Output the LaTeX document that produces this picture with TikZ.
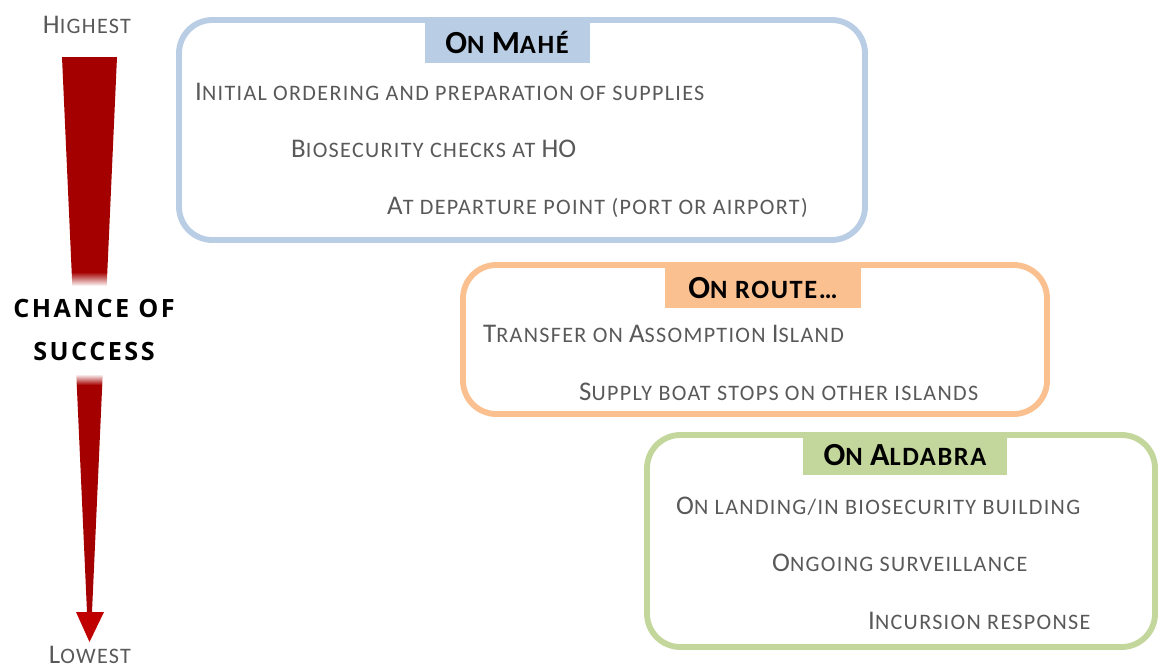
\documentclass[tikz,border=0pt]{standalone}
\usepackage{fontspec}
\setmainfont{Carlito}
\newfontfamily\chancefont{Open Sans}
\usetikzlibrary{fit,positioning}
\definecolor{mahecol}{RGB}{185,205,229}
\definecolor{routecol}{RGB}{250,192,144}
\definecolor{aldabracol}{RGB}{195,214,155}
\definecolor{shaftred}{RGB}{165,0,0}
\definecolor{tipred}{RGB}{192,0,0}
\definecolor{txtgray}{RGB}{89,89,89}
\makeatletter
% small capitals made by hand (Carlito has none)
\newcommand\smc[1]{{\fontsize{\the\dimexpr0.82\dimexpr\f@size pt\relax\relax}{\f@baselineskip}\selectfont\addfontfeatures{LetterSpace=6}\MakeUppercase{#1}}}
\makeatother
\tikzset{
  stagebox/.style={rectangle,rounded corners=1cm,line width=5pt,inner sep=0pt},
  headbox/.style={rectangle,minimum height=1.2cm,inner xsep=0pt,font=\fontsize{27.5}{30}\selectfont\bfseries,text=black},
  steptext/.style={anchor=west,inner sep=0pt,text=txtgray,font=\fontsize{23}{27}\selectfont},
  endtext/.style={inner sep=0pt,text=txtgray,font=\fontsize{23}{27}\selectfont},
  chancetext/.style={align=center,inner sep=0pt,font=\chancefont\fontsize{21.5}{36.6}\selectfont\bfseries\addfontfeatures{LetterSpace=10}}
}

\begin{document}
\begin{tikzpicture}[x=0.03cm,y=-0.03cm]
  \useasboundingbox (0,0) rectangle (1160,669);

  % scale arrow
  \begin{scope}
    \clip (62,57) -- (117,57) -- (92,612) -- (87,612) -- cycle;
    \fill[shaftred] (0,50) rectangle (180,272);
    \shade[top color=shaftred,bottom color=white] (0,272) rectangle (180,286);
    \shade[top color=white,bottom color=shaftred] (0,374) rectangle (180,385);
    \fill[shaftred] (0,385) rectangle (180,615);
  \end{scope}
  \fill[tipred] (76,612) -- (104,612) -- (89.5,642) -- cycle;
  \node[endtext] (high) at (87,25) {H\smc{ighest}};
  \node[endtext] (low) at (90,655) {L\smc{owest}};
  \node[chancetext] (chance) at (94,330) {CHANCE OF\\SUCCESS};

  % stages
  \node[stagebox,draw=mahecol,fit={(179,20) (865,240)}] (mahe) {};
  \node[stagebox,draw=routecol,fit={(463,265) (1047,414)}] (route) {};
  \node[stagebox,draw=aldabracol,fit={(647,435) (1155,647)}] (aldabra) {};

  \node[headbox,fill=mahecol,minimum width=4.95cm] (mahehead) at (507,43) {O\smc{n} M\smc{ahé}};
  \node[headbox,fill=routecol,minimum width=5.9cm] (routehead) at (763,288) {O\smc{n route…}};
  \node[headbox,fill=aldabracol,minimum width=6.1cm] (aldabrahead) at (905,455) {O\smc{n} A\smc{ldabra}};

  \node[steptext] (order) at (195,92) {I\smc{nitial ordering and preparation of supplies}};
  \node[steptext] (checks) at (291,149) {B\smc{iosecurity checks at} HO};
  \node[steptext] (depart) at (387,207) {A\smc{t departure point (port or airport)}};
  \node[steptext] (assomption) at (483,334) {T\smc{ransfer on} A\smc{ssomption} I\smc{sland}};
  \node[steptext] (boat) at (579,392) {S\smc{upply boat stops on other islands}};
  \node[steptext] (landing) at (676,506) {O\smc{n landing/in biosecurity building}};
  \node[steptext] (surveil) at (772,563) {O\smc{ngoing surveillance}};
  \node[steptext] (incursion) at (868,621) {I\smc{ncursion response}};
\end{tikzpicture}
\end{document}
